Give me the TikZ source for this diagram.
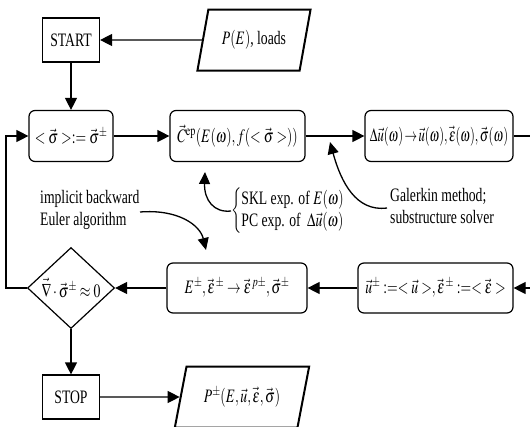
\documentclass[tikz,border=0pt]{standalone}
\usepackage{graphicx}
\usepackage{mathptmx}
\usepackage{fontspec}
\setmainfont{Liberation Serif}
\usetikzlibrary{arrows.meta,shapes.geometric}
% narrow (condensed) text, as in the scan
\newcommand{\nw}[1]{\scalebox{0.72}[1]{#1}}
\tikzset{
  link/.style={line width=1.2pt},
  arr/.style={link,-{Triangle[length=12pt,width=12pt]}},
  notearr/.style={line width=1.3pt,-{Triangle[length=12pt,width=11pt]}},
  termbox/.style={draw,line width=1.2pt,inner sep=0pt,minimum width=57pt,minimum height=44pt},
  procbox/.style={draw,line width=1.2pt,rounded corners=6pt,inner sep=0pt,minimum height=51pt},
  iobox/.style={draw,trapezium,trapezium left angle=68,trapezium right angle=112,
    trapezium stretches=true,line width=2pt,inner sep=0pt,minimum height=61pt},
  testbox/.style={draw,diamond,line width=1.2pt,inner sep=0pt,minimum width=87pt,minimum height=81pt},
  note/.style={inner sep=0pt,align=left}
}
\begin{document}
\begin{tikzpicture}[x=1pt,y=-1pt,font=\fontsize{19}{22}\selectfont]
\useasboundingbox (0,0) rectangle (530,426);
\clip (0,0) rectangle (530,426);
% terminals and input / output
\node[termbox] (start) at (71,40) {\nw{START}};
\node[iobox,minimum width=114pt] (loads) at (254,40) {\nw{$P(E)$, loads}};
\node[termbox] (stop) at (71,397) {\nw{STOP}};
\node[iobox,minimum width=135pt] (out) at (242,397) {\nw{$P^{\pm}(E,\vec u,\vec\varepsilon,\vec\sigma)$}};
% upper row
\node[procbox,minimum width=84pt] (avg) at (71,136) {\nw{$<\vec\sigma>:=\vec\sigma^{\pm}$}};
\node[procbox,minimum width=135pt] (cep) at (237.5,136) {\nw{$\vec C^{\mathrm{ep}}(E(\omega),f(<\vec\sigma>))$}};
\node[procbox,minimum width=148pt] (sol) at (439,136) {\scalebox{0.66}[1]{$\Delta\vec u(\omega)\!\rightarrow\!\vec u(\omega),\vec\varepsilon(\omega),\vec\sigma(\omega)$}};
% lower row
\node[testbox] (chk) at (71,288) {\nw{$\vec\nabla\cdot\vec\sigma^{\pm}\approx 0$}};
\node[procbox,minimum width=140pt,minimum height=50pt] (ret) at (237,288) {\nw{$E^{\pm},\vec\varepsilon^{\,\pm}\rightarrow\vec\varepsilon^{\,p\pm},\vec\sigma^{\pm}$}};
\node[procbox,minimum width=155pt,minimum height=50pt] (upd) at (435.5,288) {\nw{$\vec u^{\pm}:=<\vec u>,\vec\varepsilon^{\,\pm}:=<\vec\varepsilon>$}};
% notes
\node[note,anchor=west] (eul) at (40,210) {\nw{\begin{tabular}{@{}l@{}}implicit backward\\Euler algorithm\end{tabular}}};
\node[note,anchor=west] (skl) at (231,211) {\nw{$\left\{\begin{array}{@{}l@{}}\mbox{SKL exp. of }E(\omega)\\\mbox{PC exp. of }\;\Delta\vec u(\omega)\end{array}\right.$}};
\node[note,anchor=west] (gal) at (390,208) {\nw{\begin{tabular}{@{}l@{}}Galerkin method;\\substructure solver\end{tabular}}};
\coordinate (eul0) at (140,212);
\coordinate (eul1) at (206,250);
\coordinate (skl1) at (205,172);
\coordinate (gal1) at (330,142);
% flow
\draw[arr] (loads) -- (start);
\draw[arr] (start) -- (avg);
\draw[arr] (avg) -- (cep);
\draw[arr] (cep) -- (sol);
\draw[arr] (sol.east) -- ++(30,0) |- (upd.east);
\draw[arr] (upd) -- (ret);
\draw[arr] (ret) -- (chk);
\draw[arr] (chk.west) -- ++(-21,0) |- (avg.west);
\draw[arr] (chk) -- (stop);
\draw[arr] (stop) -- (out);
% note arrows
\draw[notearr] (eul0) .. controls (178,209) and (200,225) .. (eul1);
\draw[notearr] (skl.west) .. controls (214,213) and (204,200) .. (skl1);
\draw[notearr] ([xshift=-3pt]gal.west) .. controls (356,212) and (341,182) .. (gal1);
\end{tikzpicture}
\end{document}
